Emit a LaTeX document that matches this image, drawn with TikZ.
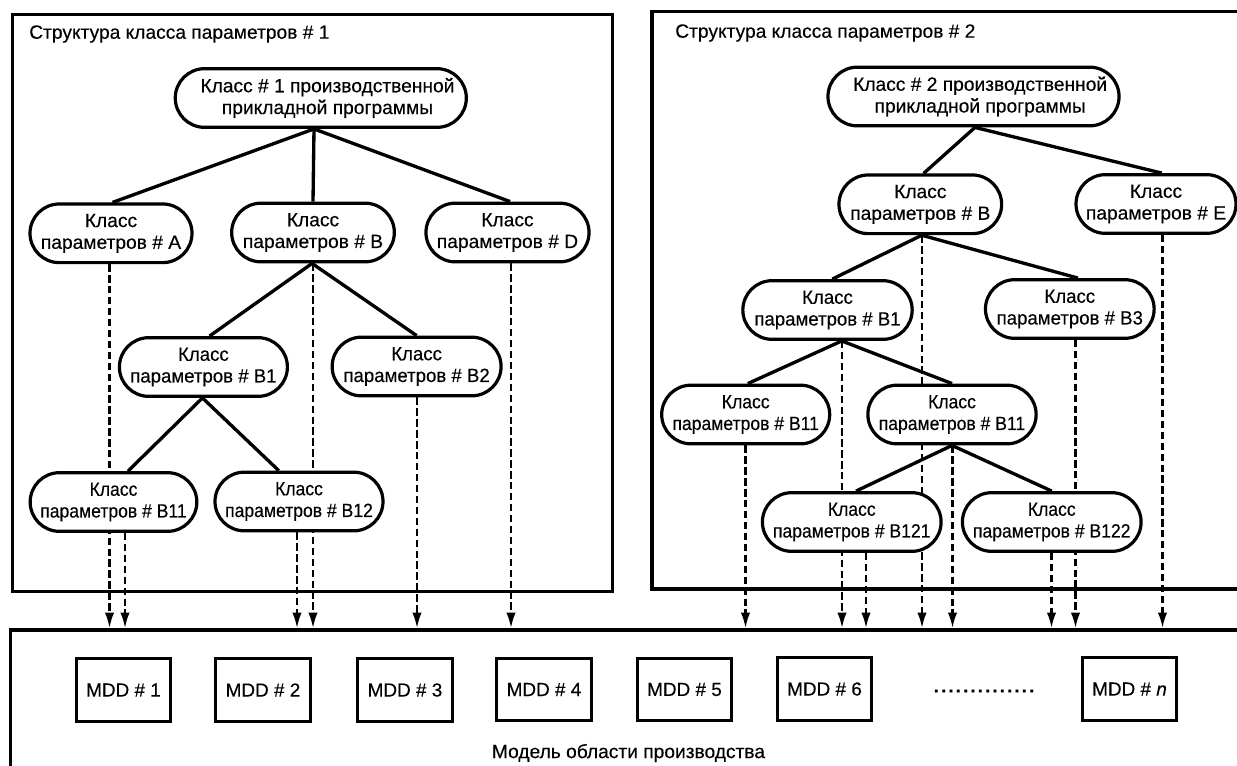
\documentclass[tikz,border=0pt]{standalone}
\usepackage{fontspec}
\setmainfont[FakeBold=0.25]{Liberation Sans}
\newfontfamily\fnB[FakeStretch=0.97,FakeBold=0.25]{Liberation Sans}
\newfontfamily\fnC[FakeStretch=0.915,FakeBold=0.25]{Liberation Sans}
\usetikzlibrary{arrows.meta,shapes.misc,backgrounds}
\tikzset{
  x=0.75pt,y=-0.75pt,
  cls/.style={draw=black,fill=white,line width=2.4pt,rounded rectangle,rounded rectangle arc length=180,inner sep=0pt,align=center,font=\fontsize{14.4pt}{16.3pt}\selectfont,minimum height=44pt},
  clsb/.style={cls,font=\fontsize{14.4pt}{16.3pt}\fnB},
  clsc/.style={cls,font=\fontsize{14.4pt}{16.3pt}\fnC},
  frm/.style={draw=black,line width=2.6pt},
  mdd/.style={draw=black,line width=2.4pt,minimum width=71pt,minimum height=47pt,inner sep=0pt,font=\fontsize{14.2pt}{16pt}\selectfont},
  lab/.style={anchor=west,inner sep=0pt,font=\fontsize{14.4pt}{16pt}\selectfont},
  edge/.style={line width=2.5pt},
  dsh/.style={line width=1.6pt,dash pattern=on 5.5pt off 2.7pt,-{Latex[length=11.5pt,width=7pt]}},
}
\begin{document}
\begin{tikzpicture}
\useasboundingbox (0,0) rectangle (1237,765);
% frames
\node[frm,minimum width=450pt,minimum height=432.8pt,inner sep=0pt,anchor=north west] (boxa) at (10.7,12.7) {};
\draw[frm] (1240,11.5) -- (652,11.5) -- (652,589) -- (1240,589);
\draw[frm] (10.5,770) -- (10.5,630) -- (1240,630);
\node[lab] (ta) at (29,34) {Структура класса параметров \# 1};
\node[lab] (tb) at (675,33) {Структура класса параметров \# 2};
\node[lab,anchor=center] (tc) at (628.5,753) {Модель области производства};
% arrival points
\foreach \n/\x in {a1/109.5,a2/125,a3/297,a4/313,a5/417,a6/511,a7/745.5,a8/842,a9/866,a10/922,a11/952.5,a12/1051.5,a13/1075.5,a14/1162.5}
  \coordinate (\n) at (\x,628);
% left tree
\node[cls,minimum width=218.3pt] (lroot) at (320.8,98) {\hspace*{10pt}Класс \# 1 производственной\\\hspace*{10pt}прикладной программы};
\node[cls,minimum width=121.5pt] (lA) at (111,233.3) {Класс\\параметров \# A};
\node[cls,minimum width=122pt] (lB) at (313,232.5) {Класс\\параметров \# B};
\node[cls,minimum width=122.3pt] (lD) at (507.5,232.5) {Класс\\параметров \# D};
\node[clsb,minimum width=126pt] (lB1) at (203.4,367) {Класс\\параметров \# B1};
\node[clsb,minimum width=126.7pt] (lB2) at (416.6,366.5) {Класс\\параметров \# B2};
\node[clsc,minimum width=125pt] (lB11) at (113.5,502) {Класс\\параметров \# B11};
\node[clsc,minimum width=126pt] (lB12) at (299,501.5) {Класс\\параметров \# B12};
% right tree
\node[cls,minimum width=218.3pt] (rroot) at (973.5,96.5) {\hspace*{10pt}Класс \# 2 производственной\\\hspace*{10pt}прикладной программы};
\node[cls,minimum width=122pt] (rBn) at (920.3,204.3) {Класс\\параметров \# B};
\node[cls,minimum width=120pt] (rEn) at (1156,204) {Класс\\параметров \# E};
\node[clsb,minimum width=127pt] (rB1n) at (827.5,310) {Класс\\параметров \# B1};
\node[clsb,minimum width=126.5pt] (rB3n) at (1069.8,309) {Класс\\параметров \# B3};
\node[clsc,minimum width=126pt] (rB11an) at (745.7,414.5) {Класс\\параметров \# B11};
\node[clsc,minimum width=126.2pt] (rB11bn) at (952,414.5) {Класс\\параметров \# B11};
\node[clsc,minimum width=134pt] (rB121n) at (851.75,522) {Класс\\параметров \# B121};
\node[clsc,minimum width=134pt] (rB122n) at (1051.75,522) {Класс\\параметров \# B122};
% dashed connectors pass behind the classes
\begin{scope}[on background layer]
\draw[dsh] (lA.south -| a1) -- (a1);
\draw[dsh] (lB11.south -| a2) -- (a2);
\draw[dsh] (lB12.south -| a3) -- (a3);
\draw[dsh] (lB.south -| a4) -- (a4);
\draw[dsh] (lB2.south -| a5) -- (a5);
\draw[dsh] (lD.south -| a6) -- (a6);
\draw[dsh] (rB11an.south -| a7) -- (a7);
\draw[dsh] (rB1n.south -| a8) -- (a8);
\draw[dsh] (rB121n.south -| a9) -- (a9);
\draw[dsh] (rBn.south -| a10) -- (a10);
\draw[dsh] (rB11bn.south -| a11) -- (a11);
\draw[dsh] (rB122n.south -| a12) -- (a12);
\draw[dsh] (rB3n.south -| a13) -- (a13);
\draw[dsh] (rEn.south -| a14) -- (a14);
\end{scope}
% solid edges
\draw[edge] ([xshift=-5.1pt]lroot.south) -- ([xshift=1.2pt]lA.north);
\draw[edge] ([xshift=-5.1pt]lroot.south) -- (lB.north);
\draw[edge] ([xshift=-5.1pt]lroot.south) -- ([xshift=1.9pt]lD.north);
\draw[edge] ([xshift=-0.7pt]lB.south) -- ([xshift=4.6pt]lB1.north);
\draw[edge] ([xshift=-0.7pt]lB.south) -- (lB2.north);
\draw[edge] ([xshift=-0.7pt]lB1.south) -- ([xshift=10.9pt]lB11.north);
\draw[edge] ([xshift=-0.7pt]lB1.south) -- ([xshift=-15.2pt]lB12.north);
\draw[edge] ([xshift=1.1pt]rroot.south) -- ([xshift=2.5pt]rBn.north);
\draw[edge] ([xshift=1.1pt]rroot.south) -- ([xshift=4.3pt]rEn.north);
\draw[edge] ([xshift=1.1pt]rBn.south) -- ([xshift=3.6pt]rB1n.north);
\draw[edge] ([xshift=1.1pt]rBn.south) -- ([xshift=6.1pt]rB3n.north);
\draw[edge] ([xshift=10.7pt]rB1n.south) -- ([xshift=1.6pt]rB11an.north);
\draw[edge] ([xshift=10.7pt]rB1n.south) -- (rB11bn.north);
\draw[edge] (rB11bn.south) -- ([xshift=3.2pt]rB121n.north);
\draw[edge] (rB11bn.south) -- (rB122n.north);
% MDD
\node[mdd] (m1) at (123.5,690) {MDD \# 1};
\node[mdd] (m2) at (263,690) {MDD \# 2};
\node[mdd] (m3) at (405,690) {MDD \# 3};
\node[mdd] (m4) at (544,689.5) {MDD \# 4};
\node[mdd] (m5) at (684.5,689.5) {MDD \# 5};
\node[mdd] (m6) at (824.5,689) {MDD \# 6};
\node[mdd] (mn) at (1129.5,689) {MDD \# \textit{n}};
\node[inner sep=0pt,font=\fontsize{14.4pt}{16pt}\selectfont\bfseries\addfontfeature{LetterSpace=10.4}] (dots) at (984,691) {..............};
\end{tikzpicture}
\end{document}
